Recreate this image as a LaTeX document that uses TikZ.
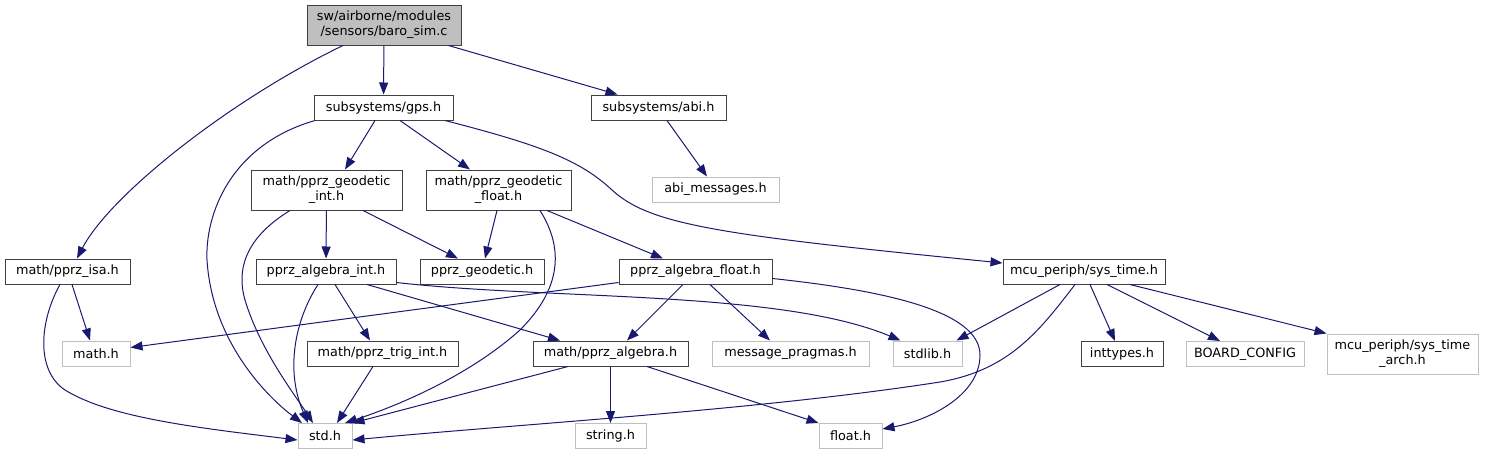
\documentclass[tikz,border=0pt]{standalone}
\usepackage{fontspec}
\setmainfont{DejaVu Sans}
\usetikzlibrary{arrows.meta}
\definecolor{inclblue}{HTML}{191970}
\definecolor{docline}{HTML}{404040}
\definecolor{extline}{HTML}{BFBFBF}
\definecolor{rootfill}{HTML}{BFBFBF}

\begin{document}
\begin{tikzpicture}[x=1pt,y=-1pt,
  every node/.style={font=\fontsize{12.8}{15}\selectfont, inner sep=0pt, minimum height=25pt, align=center, line width=1pt},
  docbox/.style={draw=docline},
  extbox/.style={draw=extline},
  rootbox/.style={draw=docline, fill=rootfill, minimum height=40pt},
  incl/.style={draw=inclblue, line width=1pt, -{Triangle[length=12pt,width=9pt]}}]

\useasboundingbox (0,0) rectangle (1510,455);

\node[rootbox, minimum width=154pt] (baro) at (384,25) {sw/airborne/modules\\/sensors/baro\_sim.c};

\node[docbox, minimum width=139pt] (gps) at (383.5,107.5) {subsystems/gps.h};
\node[docbox, minimum width=135pt] (abi) at (658.5,107.5) {subsystems/abi.h};

\node[docbox, minimum width=151pt, minimum height=40pt] (geoint) at (326.5,190) {math/pprz\_geodetic\\\_int.h};
\node[docbox, minimum width=145pt, minimum height=40pt] (geofloat) at (498.5,190) {math/pprz\_geodetic\\\_float.h};
\node[extbox, minimum width=127pt] (abimsg) at (715.5,189.5) {abi\_messages.h};

\node[docbox, minimum width=125pt] (isa) at (67.5,271.5) {math/pprz\_isa.h};
\node[docbox, minimum width=140pt] (algint) at (326,271.5) {pprz\_algebra\_int.h};
\node[docbox, minimum width=124pt] (geodetic) at (482,271.5) {pprz\_geodetic.h};
\node[docbox, minimum width=153pt] (algfloat) at (695.5,271.5) {pprz\_algebra\_float.h};
\node[docbox, minimum width=162pt] (systime) at (1084,271.5) {mcu\_periph/sys\_time.h};

\node[extbox, minimum width=68pt] (math) at (96,353.5) {math.h};
\node[docbox, minimum width=151pt] (trigint) at (382.5,353.5) {math/pprz\_trig\_int.h};
\node[docbox, minimum width=155pt] (alg) at (610.5,353.5) {math/pprz\_algebra.h};
\node[extbox, minimum width=157pt] (msgprag) at (790.5,353.5) {message\_pragmas.h};
\node[extbox, minimum width=69pt] (stdlib) at (927.5,353.5) {stdlib.h};
\node[docbox, minimum width=82pt] (inttypes) at (1122,354) {inttypes.h};
\node[extbox, minimum width=118pt] (board) at (1245,354) {BOARD\_CONFIG};
\node[extbox, minimum width=151pt, minimum height=40pt] (arch) at (1402.5,354) {mcu\_periph/sys\_time\\\_arch.h};

\node[extbox, minimum width=54pt] (std) at (325,436) {std.h};
\node[extbox, minimum width=71pt] (string) at (610.5,436) {string.h};
\node[extbox, minimum width=63pt] (float) at (850.5,436) {float.h};

\draw[incl] ([xshift=-41pt]baro.south) .. controls (230,100) and (110,195) .. ([xshift=9.5pt]isa.north);
\draw[incl] (baro) -- (gps);
\draw[incl] ([xshift=-13pt]baro.south east) -- ([xshift=-41pt]abi.north);

\draw[incl] ([xshift=-68.5pt]gps.south) .. controls (230,145) and (205,215) .. (207,260) .. controls (212,340) and (265,395) .. ([xshift=-23pt]std.north);
\draw[incl] ([xshift=-8.5pt]gps.south) -- ([xshift=18.5pt]geoint.north);
\draw[incl] ([xshift=16.5pt]gps.south) -- ([xshift=-28.5pt]geofloat.north);
\draw[incl] ([xshift=61.5pt]gps.south) .. controls (540,145) and (580,160) .. (612,190) .. controls (650,225) and (720,235) .. ([yshift=8.5pt]systime.west);

\draw[incl] ([xshift=8.5pt]abi.south) -- ([xshift=-8.5pt]abimsg.north);

\draw[incl] ([xshift=-36.5pt]geoint.south) .. controls (250,235) and (235,265) .. (245,300) .. controls (260,350) and (295,395) .. ([xshift=-12pt]std.north);
\draw[incl] (geoint) -- (algint);
\draw[incl] ([xshift=36.5pt]geoint.south) -- ([xshift=-24pt]geodetic.north);

\draw[incl] ([xshift=-1.5pt]geofloat.south) -- ([xshift=3pt]geodetic.north);
\draw[incl] ([xshift=48.5pt]geofloat.south) -- ([xshift=-32.5pt]algfloat.north);
\draw[incl] ([xshift=41.5pt]geofloat.south) .. controls (565,250) and (560,290) .. (520,330) .. controls (470,375) and (400,405) .. ([xshift=20pt]std.north);

\draw[incl] ([xshift=4.5pt]isa.south) -- ([xshift=-6pt]math.north);
\draw[incl] ([xshift=-7.5pt]isa.south) .. controls (40,320) and (35,370) .. (65,390) .. controls (110,418) and (200,428) .. ([yshift=-4pt]std.west);

\draw[incl] ([xshift=-8pt]algint.south) .. controls (295,320) and (285,370) .. ([xshift=-17pt]std.north);
\draw[incl] ([xshift=9pt]algint.south) -- ([xshift=-12.5pt]trigint.north);
\draw[incl] ([xshift=41pt]algint.south) -- ([xshift=-50.5pt]alg.north);
\draw[incl] ([yshift=-11pt]algint.east) .. controls (550,300) and (780,290) .. ([xshift=-27pt]stdlib.north);

\draw[incl] ([yshift=-11pt]algfloat.west) -- ([yshift=6pt]math.east);
\draw[incl] ([xshift=-12.5pt]algfloat.south) -- ([xshift=16.5pt]alg.north);
\draw[incl] ([xshift=14.5pt]algfloat.south) -- ([xshift=-20.5pt]msgprag.north);
\draw[incl] ([yshift=-7pt]algfloat.east) .. controls (880,290) and (980,310) .. (980,355) .. controls (980,395) and (930,420) .. ([yshift=7pt]float.east);

\draw[incl] ([xshift=-24pt]systime.south) -- ([xshift=-6pt]stdlib.north east);
\draw[incl] ([xshift=-9pt]systime.south) .. controls (1040,330) and (1010,370) .. (940,382) .. controls (760,410) and (520,424) .. ([yshift=-4pt]std.east);
\draw[incl] ([xshift=6pt]systime.south) -- ([xshift=-7pt]inttypes.north);
\draw[incl] ([xshift=23pt]systime.south) -- ([xshift=-25pt]board.north);
\draw[incl] ([xshift=46pt]systime.south) -- (arch.north west);

\draw[incl] ([xshift=-9.5pt]trigint.south) -- ([xshift=12pt]std.north);

\draw[incl] (alg) -- (string);
\draw[incl] ([xshift=36.5pt]alg.south) -- (float.north west);
\draw[incl] ([xshift=-42.5pt]alg.south) -- (std.north east);

\end{tikzpicture}
\end{document}
